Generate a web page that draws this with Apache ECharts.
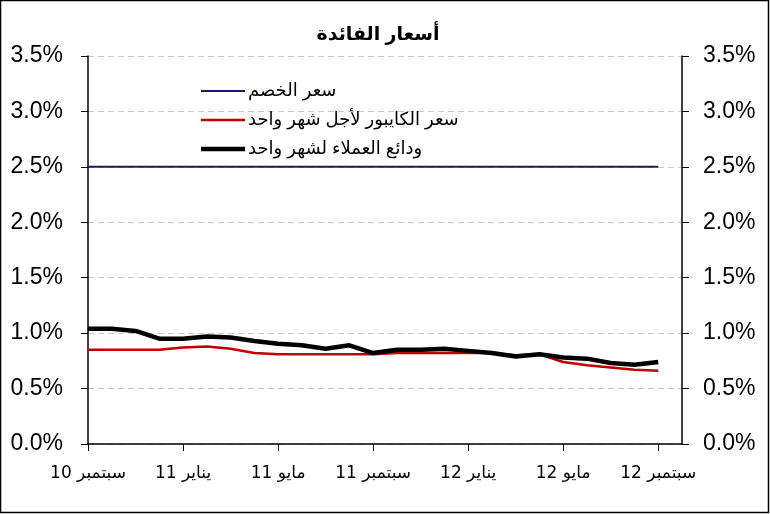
<!DOCTYPE html>
<html><head><meta charset="utf-8">
<script src="https://cdn.jsdelivr.net/npm/echarts@6/dist/echarts.min.js"></script>
<style>html,body{margin:0;padding:0;background:#fff}#c{width:770px;height:514px}</style>
</head><body><div id="c"></div>
<script>
const categories = [
 'سبتمبر 10','أكتوبر 10','نوفمبر 10','ديسمبر 10',
 'يناير 11','فبراير 11','مارس 11','أبريل 11','مايو 11','يونيو 11','يوليو 11','أغسطس 11','سبتمبر 11','أكتوبر 11','نوفمبر 11','ديسمبر 11',
 'يناير 12','فبراير 12','مارس 12','أبريل 12','مايو 12','يونيو 12','يوليو 12','أغسطس 12','سبتمبر 12','أكتوبر 12'
];
const discountRate = [2.5,2.5,2.5,2.5,2.5,2.5,2.5,2.5,2.5,2.5,2.5,2.5,2.5,2.5,2.5,2.5,2.5,2.5,2.5,2.5,2.5,2.5,2.5,2.5,2.5,null];
const kaiborRate = [0.85,0.85,0.85,0.85,0.87,0.88,0.86,0.82,0.81,0.81,0.81,0.81,0.81,0.82,0.82,0.82,0.82,0.82,0.80,0.81,0.74,0.71,0.69,0.67,0.66,null];
const depositRate = [1.04,1.04,1.02,0.95,0.95,0.97,0.96,0.93,0.905,0.89,0.86,0.89,0.82,0.85,0.85,0.86,0.84,0.82,0.79,0.81,0.78,0.77,0.73,0.715,0.74,null];
const seriesNames = ['سعر الخصم','سعر الكايبور لأجل شهر واحد','ودائع العملاء لشهر واحد'];
const titleText = 'أسعار الفائدة';

const font = 'Liberation Sans, Arial, DejaVu Sans, sans-serif';
const chart = echarts.init(document.getElementById('c'));
const yAxisCommon = {
  type:'value', min:0, max:3.5, interval:0.5,
  axisLine:{show:true, lineStyle:{color:'#000', width:1.5}},
  axisTick:{show:true, length:7, lineStyle:{color:'#000'}},
  splitLine:{show:true, lineStyle:{color:'#c8c8c8', type:[6,4]}}
};
const yLabel = m => ({formatter:v=>v.toFixed(1)+'%', fontSize:23, color:'#000', fontFamily:font, margin:m});
const legendIcons = ['path://M0,0H44V2H0Z','path://M0,0H44V2.5H0Z','path://M0,0H44V4.5H0Z'];
chart.setOption({
  animation:false,
  backgroundColor:'#fff',
  title:{text:titleText, left:373, textAlign:'center', top:20,
    textStyle:{fontSize:19, fontWeight:'bold', color:'#000', fontFamily:font}},
  grid:{left:88, right:88, top:56, bottom:70},
  legend:{orient:'vertical', left:196, top:77, itemWidth:44, itemHeight:14, itemGap:11,
    textStyle:{fontSize:18, color:'#000', fontFamily:font, padding:[0,0,0,-2]},
    data:seriesNames.map((n,i)=>({name:n, icon:legendIcons[i]}))},
  graphic:[{type:'rect', shape:{x:0.5,y:0.5,width:768,height:512}, style:{fill:'none', stroke:'#000', lineWidth:1.5}}],
  xAxis:{type:'category', data:categories, boundaryGap:false,
    axisLine:{lineStyle:{color:'#000', width:1.5}},
    axisTick:{interval:3, length:7, lineStyle:{color:'#000'}},
    axisLabel:{interval:3, fontSize:17, color:'#000', fontFamily:'DejaVu Sans, sans-serif', margin:21},
    splitLine:{show:false}},
  yAxis:[Object.assign({position:'left', axisLabel:yLabel(25)}, yAxisCommon),
         Object.assign({position:'right', axisLabel:yLabel(21)}, yAxisCommon, {splitLine:{show:false}})],
  series:[
    {name:seriesNames[0], type:'line', data:discountRate, symbol:'none', lineStyle:{color:'#1c1866', width:2}, itemStyle:{color:'#1c1866'}},
    {name:seriesNames[1], type:'line', data:kaiborRate, symbol:'none', lineStyle:{color:'#c00000', width:2.5}, itemStyle:{color:'#c00000'}},
    {name:seriesNames[2], type:'line', data:depositRate, symbol:'none', lineStyle:{color:'#000', width:4.5}, itemStyle:{color:'#000'}}
  ]
});
</script></body></html>
